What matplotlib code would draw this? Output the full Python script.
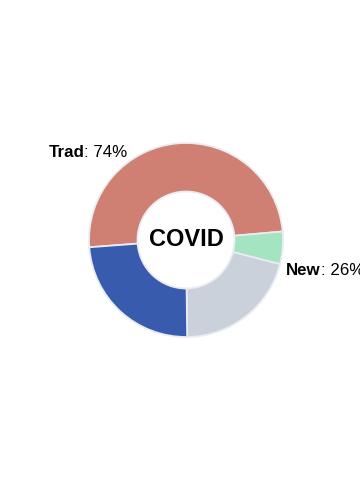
import matplotlib.pyplot as plt

plt.rcParams['font.family'] = ['Liberation Sans', 'DejaVu Sans']

# slice values, clockwise from the left edge
slices = [49.8, 5.4, 20.8, 24.0]
colores = ['#d07f73', '#a5e4c0', '#cbd1db', '#395bae']
grupos = ['Trad', 'New']
porcentajes = [74, 26]
centro = 'COVID'

fig = plt.figure(figsize=(3.6, 5.0), dpi=100)
ax = fig.add_axes([0, 0, 1, 1])

ax.pie(slices, colors=colores, startangle=184.3, counterclock=False, radius=1,
       wedgeprops=dict(width=0.5, edgecolor='#e9ecf1', linewidth=1.3))

ax.set_xlim(-186 / 97, (360 - 186) / 97)
ax.set_ylim(-260 / 97, 240 / 97)
ax.set_aspect('equal')
ax.set_axis_off()

ax.text(0, 0, centro, ha='center', va='center', fontsize=17, fontweight='bold')

# group labels: bold name, then normal ": NN%"
posiciones = [(-1.42, 0.905), (1.03, -0.31)]
for g, p, (x, y) in zip(grupos, porcentajes, posiciones):
    t = ax.text(x, y, g, ha='left', va='center', fontsize=12.2, fontweight='bold')
    ax.annotate(': %d%%' % p, xy=(1, 0.5), xycoords=t, ha='left', va='center',
                fontsize=12.2)

fig.savefig('out.png', dpi=100, facecolor='white')
